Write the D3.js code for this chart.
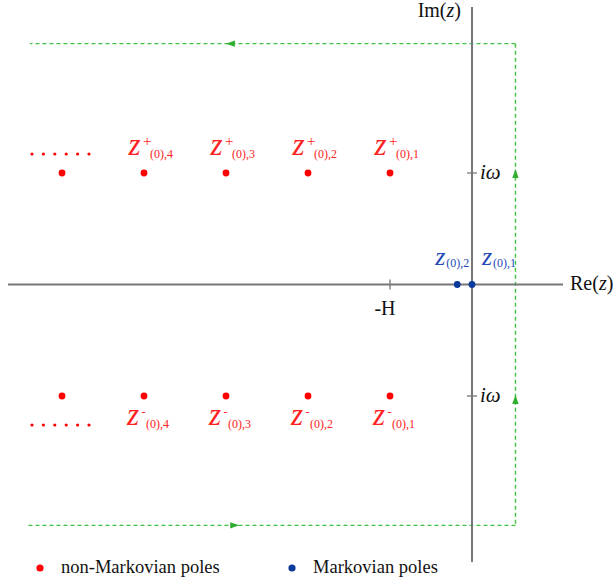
<!DOCTYPE html>
<html>
<head>
<meta charset="utf-8">
<script src="https://cdn.jsdelivr.net/npm/d3@7/dist/d3.min.js"></script>
<style>
  html, body { margin: 0; padding: 0; background: #fff; }
  text { font-family: "Liberation Serif", Times, serif; }
</style>
</head>
<body>
<svg id="chart" width="614" height="585" font-family="Liberation Serif, Times, serif"></svg>
<script>
// Pole positions in units of H (real part) and omega (imaginary part)
const nonMarkovianRe = [-1, -2, -3, -4, -5];
const nonMarkovianIndex = [1, 2, 3, 4, 5];
const labelledCount = 4;              // z±(0),1 .. z±(0),4 carry labels
const markovianRe = [0, -0.18];
const markovianNames = ["1", "2"];
const imagTicks = [1, -1];
const realTicks = [-1];
const realTickLabels = ["-H"];
// Integration contour (closed rectangle), traversed counter-clockwise
const contourTop = 2.16, contourBottom = -2.16;
const contourRight = 0.53, contourLeftTop = -5.39, contourLeftBottom = -5.43;
const legendItems = ["non-Markovian poles", "Markovian poles"];

const svg = d3.select("#chart");
const x = d3.scaleLinear().domain([-5, 0]).range([390 - 4 * 82, 472]);
const y = d3.scaleLinear().domain([-1, 1]).range([396, 173]);

const RED = "#ff0000", RED_TEXT = "#ff2222";
const BLUE = "#0a3a9c", BLUE_TEXT = "#2449b8";
const GREEN = "#3fc23f", GREEN_ARROW = "#2fae2f";
const AXIS = "#777";

// Contour (dashed green)
const cg = svg.append("g");
const dash = "4,3";
cg.append("line").attr("x1", x(contourRight)).attr("x2", x(contourLeftTop))
  .attr("y1", y(contourTop)).attr("y2", y(contourTop));
cg.append("line").attr("x1", x(contourRight)).attr("x2", x(contourLeftBottom))
  .attr("y1", y(contourBottom)).attr("y2", y(contourBottom));
cg.append("line").attr("x1", x(contourRight)).attr("x2", x(contourRight))
  .attr("y1", y(contourTop)).attr("y2", y(contourBottom));
cg.selectAll("line").attr("stroke", GREEN).attr("stroke-width", 1.4)
  .attr("stroke-dasharray", dash).attr("fill", "none");

// Direction arrows on the contour
function arrow(cx, cy, angle) {
  cg.append("path")
    .attr("d", "M5,0 L-4,-3.2 L-4,3.2 Z")
    .attr("fill", GREEN_ARROW)
    .attr("transform", `translate(${cx},${cy}) rotate(${angle})`);
}
arrow(x(-2.94), y(contourTop), 180);
arrow(x(-2.9), y(contourBottom), 0);
arrow(x(contourRight), y(1) + 1, -90);
arrow(x(contourRight), y(-1) + 4, -90);

// Axes
const ag = svg.append("g").attr("stroke", AXIS).attr("stroke-width", 2);
ag.append("line").attr("x1", 8).attr("x2", 563).attr("y1", y(0)).attr("y2", y(0));
ag.append("line").attr("x1", x(0)).attr("x2", x(0)).attr("y1", 7).attr("y2", 562);

// Axis ticks
ag.selectAll(".rt").data(realTicks).enter().append("line")
  .attr("x1", d => x(d)).attr("x2", d => x(d))
  .attr("y1", y(0) - 5).attr("y2", y(0) + 5).attr("stroke-width", 1.3);
ag.selectAll(".it").data(imagTicks).enter().append("line")
  .attr("x1", x(0) - 5).attr("x2", x(0) + 5)
  .attr("y1", d => y(d)).attr("y2", d => y(d)).attr("stroke-width", 1.3);

// Axis labels
const im = svg.append("text").attr("x", 461).attr("y", 17).attr("text-anchor", "end")
  .attr("font-size", 20).attr("fill", "#111");
im.append("tspan").text("Im(");
im.append("tspan").attr("font-style", "italic").text("z");
im.append("tspan").text(")");

const re = svg.append("text").attr("x", 570).attr("y", 290)
  .attr("font-size", 20).attr("fill", "#111");
re.append("tspan").text("Re(");
re.append("tspan").attr("font-style", "italic").text("z");
re.append("tspan").text(")");

svg.selectAll(".rtl").data(realTicks).enter().append("text")
  .attr("x", d => x(d) - 5).attr("y", y(0) + 30).attr("text-anchor", "middle")
  .attr("font-size", 20).attr("fill", "#111")
  .text((d, i) => realTickLabels[i]);

svg.selectAll(".itl").data(imagTicks).enter().append("text")
  .attr("x", x(0) + 8).attr("y", d => y(d) + 6)
  .attr("font-size", 21).attr("font-style", "italic").attr("fill", "#111")
  .text("iω");

// Non-Markovian poles, upper and lower half-planes
[1, -1].forEach(sgn => {
  svg.append("g").selectAll("circle").data(nonMarkovianRe).enter().append("circle")
    .attr("cx", d => x(d)).attr("cy", y(sgn)).attr("r", 3.4).attr("fill", RED);

  const labelled = nonMarkovianRe.slice(0, labelledCount);
  const lg = svg.append("g").attr("fill", RED_TEXT);
  labelled.forEach((d, i) => {
    const cx = x(d);
    const base = sgn > 0 ? y(1) - 18 : y(-1) + 29;
    lg.append("text").attr("x", cx - (sgn > 0 ? 15.5 : 17)).attr("y", base)
      .attr("font-size", 31).attr("font-style", "italic").text("z");
    if (sgn > 0) {
      lg.append("text").attr("x", cx - 1).attr("y", base - 9)
        .attr("font-size", 15).text("+");
    } else {
      lg.append("text").attr("x", cx - 2.5).attr("y", base - 9.5)
        .attr("font-size", 12).text("-");
    }
    lg.append("text").attr("x", cx + (sgn > 0 ? 6 : 2)).attr("y", base + 2.5)
      .attr("font-size", 12).text(`(0),${nonMarkovianIndex[i]}`);
  });

  // Ellipsis beyond the last labelled pole
  const ell = d3.range(6);
  const ey = sgn > 0 ? y(1) - 19 : y(-1) + 29;
  svg.append("g").selectAll("circle").data(ell).enter().append("circle")
    .attr("cx", k => 32 + k * 11.4).attr("cy", ey).attr("r", 1.6).attr("fill", RED);
});

// Markovian poles on the real axis
svg.append("g").selectAll("circle").data(markovianRe).enter().append("circle")
  .attr("cx", d => x(d)).attr("cy", y(0)).attr("r", 3.4).attr("fill", BLUE);
const mg = svg.append("g").attr("fill", BLUE_TEXT);
markovianRe.forEach((d, i) => {
  const zx = i === 0 ? x(d) + 10 : x(d) - 22;
  mg.append("text").attr("x", zx).attr("y", y(0) - 19.5)
    .attr("font-size", 26).attr("font-style", "italic").text("z");
  mg.append("text").attr("x", zx + 11).attr("y", y(0) - 17.5)
    .attr("font-size", 12).text(`(0),${markovianNames[i]}`);
});

// Legend
const legColors = [RED, BLUE];
const legX = [40, 292];
const leg = svg.append("g");
legendItems.forEach((t, i) => {
  leg.append("circle").attr("cx", legX[i]).attr("cy", 568).attr("r", 3.6).attr("fill", legColors[i]);
  leg.append("text").attr("x", legX[i] + 21).attr("y", 573)
    .attr("font-size", 18.5).attr("fill", "#111").text(t);
});
</script>
</body>
</html>
